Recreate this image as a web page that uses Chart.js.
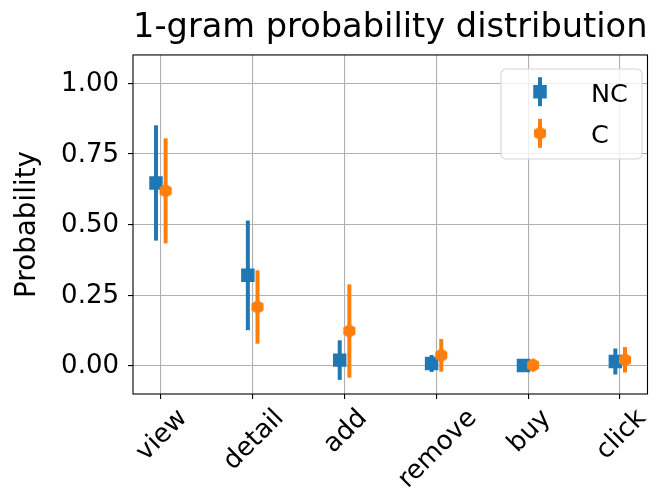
<!DOCTYPE html>
<html>
<head>
<meta charset="utf-8">
<title>1-gram probability distribution</title>
<script src="https://cdn.jsdelivr.net/npm/chart.js@4.4.0/dist/chart.umd.min.js"></script>
<style>
  html, body { margin: 0; padding: 0; background: #fff; }
  #chart { display: block; }
</style>
</head>
<body>
<canvas id="chart" width="657" height="494"></canvas>
<script>
// values (mean and +/- spread per event type)
var categories = ["view", "detail", "add", "remove", "buy", "click"];
var seriesNames = ["NC", "C"];
var ncMean = [0.647, 0.320, 0.020, 0.008, 0.001, 0.015];
var ncErr  = [0.204, 0.194, 0.070, 0.030, 0.004, 0.046];
var cMean  = [0.619, 0.208, 0.123, 0.037, 0.002, 0.021];
var cErr   = [0.186, 0.130, 0.165, 0.058, 0.006, 0.045];
var yTicks = [0, 0.25, 0.5, 0.75, 1.0];

var FONT = "'DejaVu Sans', 'Liberation Sans', sans-serif";
var blue = "#1f77b4";
var orange = "#ff7f0e";

function hexagon(color, r) {
    var c = document.createElement("canvas");
    var s = Math.ceil(r * 2) + 2;
    c.width = s;
    c.height = s;
    var g = c.getContext("2d");
    g.fillStyle = color;
    g.beginPath();
    for (var k = 0; k < 6; k++) {
        var a = -Math.PI / 2 + k * Math.PI / 3;
        var px = s / 2 + r * Math.cos(a);
        var py = s / 2 + r * Math.sin(a);
        if (k === 0) g.moveTo(px, py); else g.lineTo(px, py);
    }
    g.closePath();
    g.fill();
    return c;
}
var hexC = hexagon(orange, 7);

function points(mean, err, shift) {
    return categories.map(function (c, i) {
        return { x: i + shift, y: mean[i], err: err[i] };
    });
}

// vertical error bars, no caps
var errorBars = {
    id: "errorBars",
    beforeDatasetsDraw: function (chart) {
        var ctx = chart.ctx, x = chart.scales.x, y = chart.scales.y;
        chart.data.datasets.forEach(function (ds) {
            ctx.save();
            ctx.strokeStyle = ds.borderColor;
            ctx.lineWidth = 4;
            ds.data.forEach(function (p) {
                var px = x.getPixelForValue(p.x);
                ctx.beginPath();
                ctx.moveTo(px, y.getPixelForValue(p.y - p.err));
                ctx.lineTo(px, y.getPixelForValue(p.y + p.err));
                ctx.stroke();
            });
            ctx.restore();
        });
    }
};

// rotated category labels (centered under the tick like matplotlib), frame and legend
var extras = {
    id: "extras",
    afterDraw: function (chart) {
        var ctx = chart.ctx, x = chart.scales.x, a = chart.chartArea;
        ctx.save();

        // x tick labels
        var size = 26;
        ctx.font = size + "px " + FONT;
        ctx.fillStyle = "#000";
        ctx.textAlign = "center";
        ctx.textBaseline = "alphabetic";
        categories.forEach(function (c, i) {
            var w = ctx.measureText(c).width;
            var h = size * 1.164;
            var d = (w + h) * Math.SQRT1_2;
            var top = a.bottom + 5 + 3;
            ctx.save();
            ctx.translate(x.getPixelForValue(i), top + d / 2);
            ctx.rotate(-Math.PI / 4);
            ctx.fillText(c, 0, size * 0.346);
            ctx.restore();
        });

        // frame on all four sides
        ctx.strokeStyle = "#000";
        ctx.lineWidth = 1.1;
        ctx.strokeRect(a.left, a.top, a.right - a.left, a.bottom - a.top);

        // legend box
        var bx = 501, by = 69, bw = 141, bh = 90, r = 5;
        ctx.beginPath();
        ctx.moveTo(bx + r, by);
        ctx.lineTo(bx + bw - r, by);
        ctx.arcTo(bx + bw, by, bx + bw, by + r, r);
        ctx.lineTo(bx + bw, by + bh - r);
        ctx.arcTo(bx + bw, by + bh, bx + bw - r, by + bh, r);
        ctx.lineTo(bx + r, by + bh);
        ctx.arcTo(bx, by + bh, bx, by + bh - r, r);
        ctx.lineTo(bx, by + r);
        ctx.arcTo(bx, by, bx + r, by, r);
        ctx.closePath();
        ctx.fillStyle = "rgba(255,255,255,0.8)";
        ctx.fill();
        ctx.strokeStyle = "#d6d6d6";
        ctx.lineWidth = 1.1;
        ctx.stroke();

        var rows = [91.7, 133.3];
        var hx = 540;
        chart.data.datasets.forEach(function (ds, k) {
            var ry = rows[k];
            ctx.strokeStyle = ds.borderColor;
            ctx.lineWidth = 4;
            ctx.beginPath();
            ctx.moveTo(hx, ry - 14.5);
            ctx.lineTo(hx, ry + 14.5);
            ctx.stroke();
            if (k === 0) {
                ctx.fillStyle = ds.backgroundColor;
                ctx.fillRect(hx - 6.75, ry - 6.75, 13.5, 13.5);
            } else {
                ctx.drawImage(hexC, hx - hexC.width / 2, ry - hexC.height / 2);
            }
            ctx.fillStyle = "#000";
            ctx.font = "25.5px " + FONT;
            ctx.textAlign = "left";
            ctx.textBaseline = "alphabetic";
            ctx.fillText(ds.label, 591, ry + 10);
        });

        ctx.restore();
    }
};

new Chart(document.getElementById("chart"), {
    type: "scatter",
    data: {
        datasets: [
            {
                label: seriesNames[0],
                data: points(ncMean, ncErr, -0.05),
                pointStyle: "rect",
                pointRadius: 9.5,
                pointBorderWidth: 0,
                backgroundColor: blue,
                borderColor: blue,
                order: 1
            },
            {
                label: seriesNames[1],
                data: points(cMean, cErr, 0.055),
                pointStyle: hexC,
                pointRadius: 7,
                pointBorderWidth: 0,
                backgroundColor: orange,
                borderColor: orange,
                order: 0
            }
        ]
    },
    options: {
        responsive: false,
        animation: false,
        devicePixelRatio: 1,
        events: [],
        layout: { padding: { left: 0, right: 2, top: 0, bottom: 0 } },
        plugins: {
            legend: { display: false },
            tooltip: { enabled: false },
            title: {
                display: true,
                text: "1-gram probability distribution",
                color: "#000",
                fullSize: false,
                font: { family: FONT, size: 33.8, weight: "normal" },
                lineHeight: 1.2,
                padding: { top: 8, bottom: 6.4 }
            }
        },
        scales: {
            x: {
                type: "linear",
                min: -0.3,
                max: 5.3,
                afterBuildTicks: function (s) {
                    s.ticks = categories.map(function (c, i) { return { value: i }; });
                },
                afterFit: function (s) { s.height = 100; },
                ticks: { display: false },
                grid: {
                    color: "#b0b0b0",
                    lineWidth: 1.1,
                    drawTicks: true,
                    tickLength: 5,
                    tickColor: "#000",
                    tickWidth: 1.1
                },
                border: { display: false }
            },
            y: {
                min: -0.1,
                max: 1.1,
                afterBuildTicks: function (s) {
                    s.ticks = yTicks.map(function (v) { return { value: v }; });
                },
                afterFit: function (s) { s.width = 133; },
                ticks: {
                    color: "#000",
                    padding: 9,
                    labelOffset: 1,
                    font: { family: FONT, size: 26 },
                    callback: function (v) { return v.toFixed(2); }
                },
                grid: {
                    color: "#b0b0b0",
                    lineWidth: 1.1,
                    drawTicks: true,
                    tickLength: 5,
                    tickColor: "#000",
                    tickWidth: 1.1
                },
                border: { display: false },
                title: {
                    display: true,
                    text: "Probability",
                    color: "#000",
                    font: { family: FONT, size: 27.8 },
                    padding: { top: 11, bottom: 0 }
                }
            }
        }
    },
    plugins: [errorBars, extras]
});
</script>
</body>
</html>
